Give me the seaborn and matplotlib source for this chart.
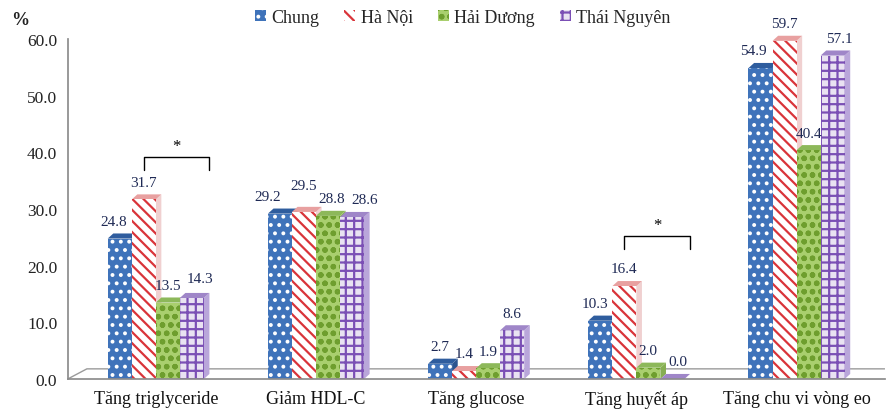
import numpy as np
import pandas as pd
import matplotlib
matplotlib.use("Agg")
import matplotlib.pyplot as plt
import seaborn as sns
from matplotlib.patches import Patch, Polygon

categories = ["Tăng triglyceride", "Giảm HDL-C", "Tăng glucose", "Tăng huyết áp", "Tăng chu vi vòng eo"]
series = ["Chung", "Hà Nội", "Hải Dương", "Thái Nguyên"]
chung = [24.8, 29.2, 2.7, 10.3, 54.9]
ha_noi = [31.7, 29.5, 1.4, 16.4, 59.7]
hai_duong = [13.5, 28.8, 1.9, 2.0, 40.4]
thai_nguyen = [14.3, 28.6, 8.6, 0.0, 57.1]
y_ticks = [0, 10, 20, 30, 40, 50, 60]
# significance brackets: (category index, from series, to series, bracket height)
brackets = [(0, 1, 3, 39.2), (3, 1, 3, 25.2)]

sns.set_theme(style="white")
plt.rcParams['font.family'] = ['Liberation Serif', 'DejaVu Serif']
plt.rcParams['hatch.linewidth'] = 1.6

df = pd.DataFrame({
    "cat": categories * 4,
    "series": sum([[s] * 5 for s in series], []),
    "val": chung + ha_noi + hai_duong + thai_nguyen,
})

faces = ["#3F73BA", "#FFFFFF", "#A9CF6E", "#E9E2F2"]
hatch_cols = ["#FFFFFF", "#D9343A", "#6E9E2E", "#7B4FB5"]
tops = ["#2F5D9E", "#E8A0A0", "#8DB85A", "#9F86C8"]
sides = ["#2C548F", "#F0D0D0", "#86AE52", "#B9A6DA"]
hatches = ["..", "\\\\\\", "oo", "++"]

# label nudges in points: (series index, category index) -> (dx, dy)
nudges = {(0, 1): (-9, 0), (1, 1): (0, 7), (2, 1): (3, 0), (3, 1): (9, 0),
          (0, 0): (-4, 0), (3, 0): (6, 2), (0, 4): (-5, 0), (3, 4): (5, 0),
          (0, 3): (-4, 0), (3, 3): (4, 0)}

fig = plt.figure(figsize=(8.9, 4.14), dpi=100)
ax = fig.add_axes([0.076, 0.082, 0.918, 0.821])
sns.barplot(data=df, x="cat", y="val", hue="series", order=categories, hue_order=series,
            width=0.6, palette=faces, ax=ax, legend=False, errorbar=None, saturation=1)

DX, DY = 0.035, 0.9  # fake 3D depth in data units

# floor
ax.plot([-0.55, -0.55 + 0.12, 4.55], [0, 1.8, 1.8], color="#9A9A9A", lw=1, zorder=0.5)

for ci, cont in enumerate(ax.containers):
    for bi, bar in enumerate(cont):
        bar.set_facecolor(faces[ci])
        bar.set_edgecolor(hatch_cols[ci])
        bar.set_hatch(hatches[ci])
        bar.set_linewidth(0)
        bar.set_zorder(2)
        x, w, h = bar.get_x(), bar.get_width(), bar.get_height()
        side = Polygon([(x + w, 0), (x + w + DX, DY), (x + w + DX, h + DY), (x + w, h)],
                       closed=True, facecolor=sides[ci], edgecolor="none", zorder=1.5, clip_on=False)
        top = Polygon([(x, h), (x + w, h), (x + w + DX, h + DY), (x + DX, h + DY)],
                      closed=True, facecolor=tops[ci], edgecolor="none", zorder=1.6, clip_on=False)
        ax.add_patch(side)
        ax.add_patch(top)
        ndx, ndy = nudges.get((ci, bi), (0, 0))
        ax.annotate(f"{h:.1f}", (x + w / 2, h + DY), xytext=(ndx, 4 + ndy), textcoords="offset points",
                    ha="center", va="bottom", fontsize=11, color="#1F2A55", zorder=3,
                    annotation_clip=False)

# brackets
for cidx, s0, s1, h in brackets:
    b0 = ax.containers[s0][cidx]
    b1 = ax.containers[s1][cidx]
    x0 = b0.get_x() + b0.get_width() / 2
    x1 = b1.get_x() + b1.get_width() + DX
    ax.plot([x0, x0, x1, x1], [h - 2.3, h, h, h - 2.3], color="black", lw=1)
    ax.text((x0 + x1) / 2, h + 0.6, "*", ha="center", va="bottom", fontsize=12, color="black")

ax.set_ylim(0, 60)
ax.set_yticks(y_ticks)
ax.set_yticklabels([f"{t:.1f}" for t in y_ticks], fontsize=12.5, color="#222222")
ax.set_xlim(-0.55, 4.55)
ax.tick_params(axis="x", labelsize=13, colors="#111111", length=0, pad=8)
ax.tick_params(axis="y", length=4, color="#888888", direction="out")
ax.set_xlabel("")
ax.set_ylabel("")
for s in ["top", "right"]:
    ax.spines[s].set_visible(False)
ax.spines["left"].set_color("#8C8C8C")
ax.spines["bottom"].set_color("#8C8C8C")

fig.text(0.012, 0.94, "%", fontsize=13, fontweight="bold", color="#222222")

handles = [Patch(facecolor=faces[i], edgecolor=hatch_cols[i], hatch=hatches[i], linewidth=0) for i in range(4)]
fig.legend(handles, series, loc="center", bbox_to_anchor=(0.52, 0.955), ncol=4, frameon=False,
           fontsize=13, handlelength=0.6, handleheight=0.6, handletextpad=0.3, columnspacing=1.4)

fig.savefig("out.png", dpi=100)
